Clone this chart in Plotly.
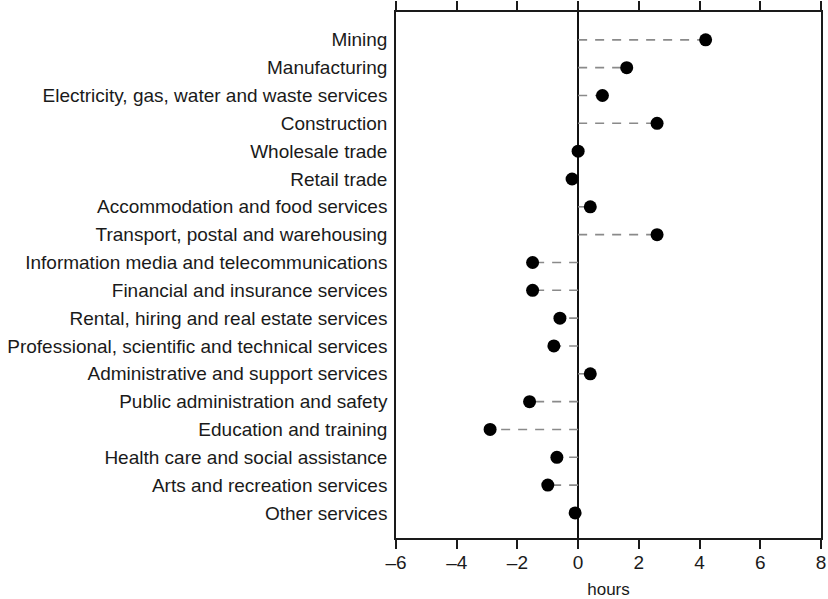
import plotly.graph_objects as go

industries = [
    'Mining', 'Manufacturing', 'Electricity, gas, water and waste services',
    'Construction', 'Wholesale trade', 'Retail trade',
    'Accommodation and food services', 'Transport, postal and warehousing',
    'Information media and telecommunications', 'Financial and insurance services',
    'Rental, hiring and real estate services',
    'Professional, scientific and technical services',
    'Administrative and support services', 'Public administration and safety',
    'Education and training', 'Health care and social assistance',
    'Arts and recreation services', 'Other services',
]
hours = [4.2, 1.6, 0.8, 2.6, 0.0, -0.2, 0.4, 2.6, -1.5, -1.5,
         -0.6, -0.8, 0.4, -1.6, -2.9, -0.7, -1.0, -0.1]

x_ticks = [-6, -4, -2, 0, 2, 4, 6, 8]
x_tick_text = ['–6', '–4', '–2', '0', '2', '4', '6', '8']

pos = list(range(len(industries)))

# dashed stems from zero to each dot
sx, sy = [], []
for p, v in zip(pos, hours):
    sx += [0, v, None]
    sy += [p, p, None]

fig = go.Figure()
fig.add_trace(go.Scatter(x=sx, y=sy, mode='lines',
                         line=dict(color='#8a8a8a', width=1.6, dash='9px,8px'),
                         hoverinfo='skip'))
fig.add_trace(go.Scatter(x=hours, y=pos, mode='markers',
                         marker=dict(color='black', size=13)))

font = 'Liberation Sans, Arial, sans-serif'
fig.update_layout(
    width=828, height=599,
    margin=dict(l=396, r=7, t=12, b=61),
    plot_bgcolor='white', paper_bgcolor='white',
    showlegend=False,
    font=dict(family=font, size=18, color='#1a1a1a'),
    xaxis=dict(range=[-6.0001, 8.0001], tickvals=x_ticks, ticktext=x_tick_text,
               ticks='outside', ticklen=9, tickwidth=1.5, tickcolor='#1a1a1a',
               showline=True, linecolor='#1a1a1a', linewidth=1.5, mirror='ticks',
               showgrid=False, zeroline=True, zerolinecolor='#111', zerolinewidth=1.5,
               tickfont=dict(size=19), automargin=False,
               ticklabeloverflow='allow', ticklabelstandoff=-3,
               title=dict(text='hours', font=dict(size=17), standoff=12)),
    yaxis=dict(range=[17.9, -1.0], tickvals=pos, ticktext=industries,
               ticks='', showline=True, linecolor='#1a1a1a', linewidth=1.5, mirror=True,
               showgrid=False, zeroline=False, ticklabelstandoff=3,
               tickfont=dict(size=19), automargin=False),
)

# page body has a default 8px margin; drop it so the figure sits at the corner
fig.write_html("out.html", config={'displayModeBar': False},
               post_script="document.body.style.margin='0';")
